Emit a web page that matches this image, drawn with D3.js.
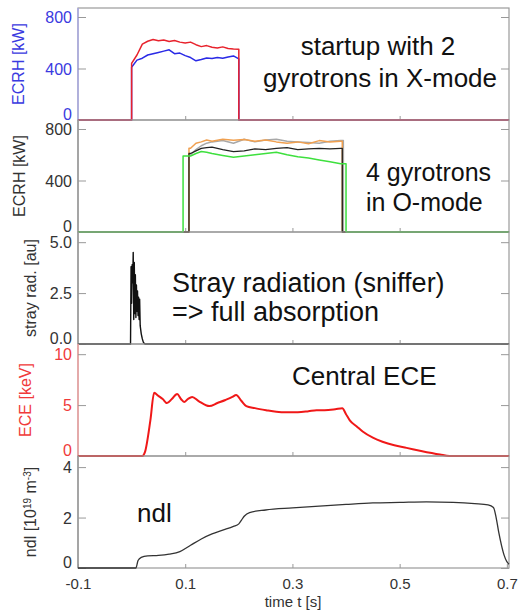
<!DOCTYPE html>
<html>
<head>
<meta charset="UTF-8">
<title>ECRH startup</title>
<script src="https://cdn.jsdelivr.net/npm/d3@7"></script>
<style>
  body { margin:0; background:#fff; }
  svg text { font-family: "Liberation Sans", Arial, sans-serif; }
</style>
</head>
<body>
<svg id="chart" width="522" height="615"></svg>
<script>
// time axis
var tMin = -0.1, tMax = 0.704;
var timeTicks = [-0.1, 0.1, 0.3, 0.5, 0.7];
var minorTicks = [0.1, 0.3, 0.5];

// panel 1: startup with 2 gyrotrons in X-mode [kW]
var xmodeOn = 0.0, xmodeOff = 0.2;
var xmodeT    = [0.00,0.01,0.02,0.03,0.04,0.05,0.06,0.07,0.08,0.09,0.10,0.11,0.12,0.13,0.14,0.15,0.16,0.17,0.18,0.19,0.20];
var xmodeRed  = [440, 505, 590, 612, 625, 615, 622, 610, 618, 605, 598, 605, 585, 570, 578, 565, 560, 568, 555, 552, 550];
var xmodeBlue = [410, 465, 480, 505, 515, 525, 535, 545, 515, 520, 500, 485, 460, 470, 482, 478, 485, 480, 490, 498, 475];

// panel 2: 4 gyrotrons in O-mode [kW]
var omodeT      = [0.11,0.12,0.13,0.14,0.15,0.17,0.19,0.21,0.23,0.25,0.27,0.29,0.31,0.33,0.35,0.37,0.39];
var omodeGrey   = [600, 640, 670, 690, 700, 710, 690, 720, 700, 715, 720, 705, 700, 695, 690, 705, 710];
var omodeOrange = [650, 690, 700, 715, 705, 720, 712, 718, 705, 715, 700, 690, 700, 685, 710, 700, 705];
var omodeBlack  = [610, 630, 650, 655, 660, 640, 625, 630, 645, 640, 650, 655, 640, 645, 650, 645, 650];
var omodeGreen  = [590, 610, 625, 620, 610, 595, 580, 590, 600, 610, 620, 600, 585, 575, 560, 545, 530];
var omodeOn  = [0.107, 0.107, 0.107, 0.096];
var omodeOff = [0.395, 0.393, 0.393, 0.400];

// panel 3: stray radiation [au]
var strayT = [-0.1,-0.002,-0.001,0.0,0.001,0.002,0.003,0.004,0.005,0.006,0.007,0.008,0.009,0.010,0.011,0.012,0.013,0.014,0.015,0.016,0.018,0.020,0.022,0.025,0.704];
var strayV = [0, 0, 3.8, 2.0, 3.9, 3.0, 4.5, 1.2, 4.0, 1.5, 3.4, 1.3, 2.9, 1.6, 2.6, 1.4, 2.3, 1.2, 2.2, 0.9, 0.5, 0.25, 0.08, 0, 0];

// panel 4: central ECE [keV]
var eceT = [-0.1,0.02,0.025,0.035,0.042,0.05,0.058,0.066,0.075,0.085,0.092,0.098,0.105,0.113,0.125,0.145,0.16,0.175,0.188,0.195,0.205,0.214,0.23,0.251,0.27,0.289,0.31,0.33,0.345,0.36,0.38,0.393,0.40,0.407,0.42,0.431,0.45,0.468,0.49,0.513,0.54,0.575,0.593,0.704];
var eceV = [0, 0, 0.4, 3.5, 6.2, 5.9, 5.6, 5.2, 5.6, 6.1, 5.6, 5.3, 5.6, 5.8, 5.4, 4.9, 5.2, 5.5, 5.8, 6.0, 5.4, 4.9, 4.7, 4.5, 4.35, 4.3, 4.3, 4.4, 4.5, 4.5, 4.6, 4.7, 4.1, 3.5, 2.9, 2.4, 1.8, 1.4, 1.05, 0.8, 0.5, 0.15, 0, 0];

// panel 5: line density ndl [1e19 m^-3]
var ndlT = [-0.1,0.008,0.012,0.018,0.03,0.05,0.07,0.09,0.11,0.13,0.15,0.17,0.19,0.20,0.205,0.21,0.22,0.25,0.30,0.35,0.40,0.45,0.50,0.55,0.60,0.64,0.665,0.675,0.68,0.685,0.69,0.695,0.70,0.704];
var ndlV = [0, 0, 0.3, 0.42, 0.48, 0.5, 0.55, 0.65, 0.9, 1.15, 1.35, 1.5, 1.65, 1.75, 1.9, 2.05, 2.2, 2.3, 2.38, 2.45, 2.52, 2.58, 2.6, 2.62, 2.6, 2.55, 2.5, 2.4, 2.0, 1.4, 0.9, 0.5, 0.25, 0.15];

var left = 78, right = 509, top0 = 8, ph = 112;
var svg = d3.select("#chart");
var x = d3.scaleLinear().domain([tMin, tMax]).range([left, right]);

function zip(t, v) { return t.map(function (d, k) { return [d, v[k]]; }); }
function pulse(t, v, on, off) {
    var pts = [[tMin, 0], [on, 0], [on, v[0]]];
    t.forEach(function (d, k) { pts.push([d, v[k]]); });
    pts.push([off, v[v.length - 1]], [off, 0], [tMax, 0]);
    return pts;
}

var panels = [
    { ymax: 870, ticks: [0, 400, 800], fmt: d3.format("d"), label: "ECRH [kW]", lc: "#3a3ae0", axc: "#a9a9e6", lx: 18, ly: 64,
      series: [{ pts: pulse(xmodeT, xmodeBlue, xmodeOn, xmodeOff), c: "#2a2ae6", w: 1.5 },
               { pts: pulse(xmodeT, xmodeRed, xmodeOn, xmodeOff), c: "#e8222c", w: 1.5 }] },
    { ymax: 870, ticks: [0, 400, 800], fmt: d3.format("d"), label: "ECRH [kW]", lc: "#333", axc: "#999", lx: 19, ly: 176,
      series: [{ pts: pulse(omodeT, omodeGrey, omodeOn[0], omodeOff[0]), c: "#a8a8a8", w: 1.5 },
               { pts: pulse(omodeT, omodeOrange, omodeOn[1], omodeOff[1]), c: "#f0a050", w: 1.5 },
               { pts: pulse(omodeT, omodeBlack, omodeOn[2], omodeOff[2]), c: "#222", w: 1.3 },
               { pts: pulse(omodeT, omodeGreen, omodeOn[3], omodeOff[3]), c: "#3ee03e", w: 1.5 }] },
    { ymax: 5.5, ticks: [0, 2.5, 5], fmt: d3.format(".1f"), label: "stray rad. [au]", lc: "#333", axc: "#999", lx: 30, ly: 288,
      series: [{ pts: zip(strayT, strayV), c: "#111", w: 1.4 }] },
    { ymax: 11, ticks: [0, 5, 10], fmt: d3.format("d"), label: "ECE [keV]", lc: "#f03a3a", axc: "#f2a0a0", lx: 25, ly: 400,
      series: [{ pts: zip(eceT, eceV), c: "#f01818", w: 2, smooth: true }] },
    { ymax: 4.44, ticks: [0, 2, 4], fmt: d3.format("d"), label: null, lc: "#333", axc: "#999", lx: 30, ly: 512,
      series: [{ pts: zip(ndlT, ndlV), c: "#333", w: 1.3, smooth: true }] }
];

panels.forEach(function (p, i) {
    var y0 = top0 + i * ph, y1 = y0 + ph;
    var y = d3.scaleLinear().domain([0, p.ymax]).range([y1, y0]);
    var g = svg.append("g");

    // frame
    g.append("rect").attr("x", left).attr("y", y0).attr("width", right - left).attr("height", ph)
        .attr("fill", "none").attr("stroke", "#9a9a9a").attr("stroke-width", 1.2);
    g.append("line").attr("x1", left).attr("x2", left).attr("y1", y0).attr("y2", y1)
        .attr("stroke", p.axc).attr("stroke-width", 1.4);

    // left axis
    var ga = g.append("g").attr("transform", "translate(" + left + ",0)")
        .call(d3.axisLeft(y).tickValues(p.ticks).tickSizeInner(-8).tickSizeOuter(0).tickPadding(6).tickFormat(p.fmt));
    ga.select(".domain").remove();
    ga.selectAll(".tick line").attr("stroke", "#999");
    ga.selectAll(".tick text").attr("fill", p.lc).style("font-size", "16px")
        .attr("dy", function (d) { return d === 0 ? "-0.05em" : "0.36em"; });

    // right ticks
    var gr = g.append("g").attr("transform", "translate(" + right + ",0)")
        .call(d3.axisRight(y).tickValues(p.ticks).tickSizeInner(-8).tickSizeOuter(0).tickFormat(""));
    gr.select(".domain").remove();
    gr.selectAll(".tick line").attr("stroke", "#999");

    // bottom ticks
    var last = (i === panels.length - 1);
    var gb = g.append("g").attr("transform", "translate(0," + y1 + ")")
        .call(d3.axisBottom(x).tickValues(last ? timeTicks : minorTicks).tickSizeInner(-4).tickSizeOuter(0)
            .tickPadding(10).tickFormat(last ? function (d) { return d.toFixed(1); } : ""));
    gb.select(".domain").remove();
    gb.selectAll(".tick line").attr("stroke", "#999");
    gb.selectAll(".tick text").attr("fill", "#333").style("font-size", "15px");

    // data
    p.series.forEach(function (s) {
        var line = d3.line().curve(s.smooth ? d3.curveMonotoneX : d3.curveLinear);
        g.append("path")
            .attr("d", line(s.pts.map(function (d) { return [x(d[0]), y(d[1])]; })))
            .attr("fill", "none").attr("stroke", s.c).attr("stroke-width", s.w)
            .attr("stroke-linejoin", "round");
    });

    // y label
    var lab = g.append("text").attr("transform", "translate(" + p.lx + "," + p.ly + ") rotate(-90)")
        .attr("text-anchor", "middle").attr("dy", "0.35em").attr("fill", p.lc).style("font-size", "16px");
    if (p.label) {
        lab.text(p.label);
    } else {
        lab.append("tspan").text("ndl [10");
        lab.append("tspan").attr("baseline-shift", "super").style("font-size", "10px").text("19");
        lab.append("tspan").text(" m");
        lab.append("tspan").attr("baseline-shift", "super").style("font-size", "10px").text("-3");
        lab.append("tspan").text("]");
    }
});

// annotations
function note(txt, xx, yy, size, anchor) {
    svg.append("text").attr("x", xx).attr("y", yy).attr("text-anchor", anchor || "start")
        .attr("fill", "#111").style("font-size", size + "px").text(txt);
}
note("startup with 2", 378, 55, 26, "middle");
note("gyrotrons in X-mode", 380, 87, 26, "middle");
note("4 gyrotrons", 366, 181, 25);
note("in O-mode", 366, 211, 25);
note("Stray radiation (sniffer)", 172, 292, 27);
note("=> full absorption", 172, 321, 27);
note("Central ECE", 292, 385, 26);
note("ndl", 137, 522, 26);

svg.append("text").attr("x", 293).attr("y", 607).attr("text-anchor", "middle")
    .attr("fill", "#333").style("font-size", "15px").text("time t [s]");
</script>
</body>
</html>
